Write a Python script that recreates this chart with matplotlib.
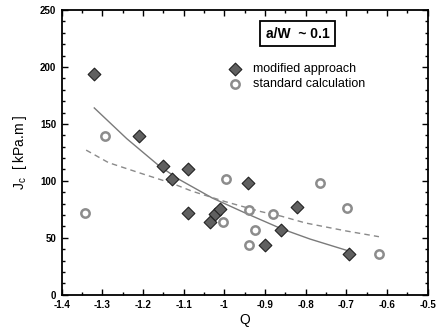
import matplotlib
matplotlib.use("Agg")
import matplotlib.pyplot as plt
from matplotlib.ticker import MultipleLocator, FuncFormatter

# modified approach (filled diamonds)
q_mod = [-1.32, -1.21, -1.15, -1.13, -1.09, -1.09, -1.035, -1.023, -1.011, -0.943, -0.90, -0.861, -0.822, -0.693]
jc_mod = [194, 139, 113, 102, 110, 72, 64, 71, 75, 98, 44, 57, 77, 36]

# standard calculation (open circles)
q_std = [-1.343, -1.294, -0.997, -1.003, -0.939, -0.939, -0.925, -0.881, -0.765, -0.699, -0.619]
jc_std = [72, 139, 102, 64, 74, 44, 57, 71, 98, 76, 36]

# trend curves
q_fit_mod = [-1.32, -1.24, -1.16, -1.11, -1.03, -0.95, -0.86, -0.79, -0.69]
jc_fit_mod = [164, 137, 113, 101, 85, 72, 58, 49, 38]
q_fit_std = [-1.34, -1.285, -1.20, -1.13, -1.08, -1.0, -0.91, -0.86, -0.80, -0.70, -0.62]
jc_fit_std = [127, 116, 106, 98, 91, 82, 73, 69, 63, 56, 51]

plt.rcParams['font.family'] = ['Liberation Sans', 'DejaVu Sans']

fig = plt.figure(figsize=(4.41, 3.32), dpi=100)
ax = fig.add_axes([0.140, 0.112, 0.830, 0.858])

ax.plot(q_fit_mod, jc_fit_mod, '-', color='#7a7a7a', lw=1.0, zorder=2)
ax.plot(q_fit_std, jc_fit_std, '--', color='#8a8a8a', lw=1.0, dashes=(4, 3), zorder=2)

ax.scatter(q_mod, jc_mod, marker='D', s=42, facecolor='#606060', edgecolor='#222222',
           linewidth=0.8, zorder=3)
ax.scatter(q_std, jc_std, marker='o', s=36, facecolor='white', edgecolor='#8c8c8c',
           linewidth=1.8, zorder=3)

ax.set_xlim(-1.4, -0.5)
ax.set_ylim(0, 250)
ax.xaxis.set_major_locator(MultipleLocator(0.1))
ax.xaxis.set_minor_locator(MultipleLocator(0.05))
ax.xaxis.set_major_formatter(FuncFormatter(lambda v, p: '%g' % round(v, 2)))
ax.yaxis.set_major_locator(MultipleLocator(50))
ax.yaxis.set_minor_locator(MultipleLocator(10))
ax.tick_params(which='both', direction='in', top=True, right=True, width=1.0)
ax.tick_params(which='major', length=4, labelsize=7, pad=4)
ax.tick_params(which='minor', length=2.5)
for lbl in ax.get_xticklabels() + ax.get_yticklabels():
    lbl.set_fontweight('bold')
for sp in ax.spines.values():
    sp.set_linewidth(1.3)

ax.set_xlabel('Q', fontsize=10, labelpad=2)
ax.set_ylabel(r'J$_\mathregular{c}$  [ kPa.m ]', fontsize=10, labelpad=8)

# legend drawn by hand
ax.scatter([-0.975], [198], marker='D', s=42, facecolor='#606060', edgecolor='#222222',
           linewidth=0.8, zorder=3, clip_on=False)
ax.scatter([-0.975], [185], marker='o', s=36, facecolor='white', edgecolor='#8c8c8c',
           linewidth=1.8, zorder=3, clip_on=False)
ax.text(-0.93, 198, 'modified approach', fontsize=9, va='center')
ax.text(-0.93, 185, 'standard calculation', fontsize=9, va='center')

ax.text(-0.82, 229, 'a/W  ~ 0.1', fontsize=10, fontweight='bold', ha='center', va='center',
        bbox=dict(boxstyle='square,pad=0.4', facecolor='white', edgecolor='black', lw=1.3))

fig.savefig('out.png', dpi=100)
